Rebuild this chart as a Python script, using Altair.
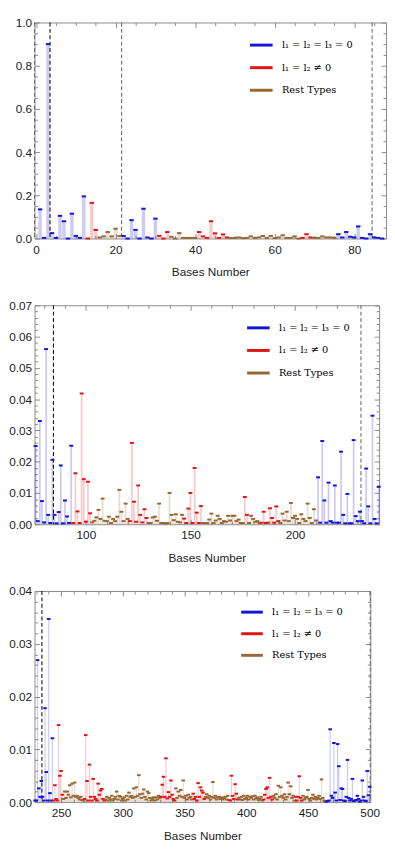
import altair as alt
import pandas as pd

# ---------------- data ----------------
TYPE_NAMES = {"B": "l₁ = l₂ = l₃ = 0", "R": "l₁ = l₂ ≠ 0", "N": "Rest Types"}
TYPE_ORDER = ["l₁ = l₂ = l₃ = 0", "l₁ = l₂ ≠ 0", "Rest Types"]
TYPE_COLORS = ["#1414d8", "#e01414", "#996633"]

# panel 1 : bases 1..87
p1_start = 1
p1_runs = [("B", 12), ("R", 3), ("N", 6), ("B", 9), ("R", 3), ("N", 7), ("R", 8),
           ("N", 18), ("R", 3), ("N", 6), ("B", 12)]
p1_vals = [0.135, 0.003, 0.90, 0.025, 0.003, 0.105, 0.080, 0.0, 0.115, 0.012, 0.003, 0.195,
           0.0, 0.165, 0.040,
           0.005, 0.010, 0.030, 0.010, 0.045, 0.012,
           0.012, 0.0, 0.085, 0.040, 0.0, 0.138, 0.005, 0.0, 0.092,
           0.012, 0.0, 0.030,
           0.008, 0.0, 0.025, 0.003, 0.003, 0.003, 0.003,
           0.030, 0.010, 0.003, 0.080, 0.024, 0.003, 0.019, 0.005,
           0.002, 0.003, 0.005, 0.002, 0.003, 0.010, 0.002, 0.005, 0.012, 0.003, 0.012, 0.002,
           0.005, 0.015, 0.003, 0.003, 0.010, 0.0,
           0.003, 0.020, 0.005,
           0.003, 0.003, 0.010, 0.005, 0.005, 0.003,
           0.020, 0.005, 0.030, 0.008, 0.005, 0.056, 0.003, 0.0, 0.020, 0.005, 0.003, 0.0]
p1_dashes = [-0.4, 3.5, 21.5, 84.5]
p1_dash_kinds = ["light", "dark", "light", "light"]
p1_xmajor = [0, 20, 40, 60, 80]
p1_xminor = [v for v in range(0, 90, 5) if v % 20]
p1_ymajor = [0.0, 0.2, 0.4, 0.6, 0.8, 1.0]
p1_yminor = [round(i * 0.05, 2) for i in range(21) if i % 4]

# panel 2 : bases 76..240
p2_start = 76
p2_runs = [("B", 18), ("R", 9), ("N", 18), ("R", 9), ("N", 17), ("R", 9), ("N", 20),
           ("R", 2), ("N", 6), ("R", 9), ("N", 18), ("B", 30)]
p2_vals = [0.025, 0.001, 0.033, 0.0074, 0.0006, 0.056, 0.003, 0.0004, 0.0206, 0.003, 0.0003,
           0.0039, 0.0188, 0.0003, 0.0076, 0.0025, 0.0004, 0.0251,
           0.0004, 0.0163, 0.0041, 0.0004, 0.0418, 0.0144, 0.0008, 0.0136, 0.0035,
           0.0006, 0.0011, 0.0022, 0.0046, 0.0017, 0.0082, 0.0011, 0.0010, 0.0024, 0.0004,
           0.0017, 0.0010, 0.0024, 0.0110, 0.0040, 0.0010, 0.0066, 0.0017,
           0.0010, 0.0260, 0.0072, 0.0008, 0.0124, 0.0030, 0.0006, 0.0048, 0.0020,
           0.0004, 0.0004, 0.0022, 0.0024, 0.0011, 0.0066, 0.0004, 0.0004, 0.0002, 0.0004,
           0.0100, 0.0030, 0.0013, 0.0032, 0.0008, 0.0006, 0.0030,
           0.0018, 0.0004, 0.0050, 0.0100, 0.0004, 0.0180, 0.0037, 0.0004, 0.0058,
           0.0004, 0.0004, 0.0004, 0.0015, 0.0034, 0.0004, 0.0012, 0.0027, 0.0017, 0.0004,
           0.0010, 0.0008, 0.0027, 0.0012, 0.0027, 0.0027, 0.0010, 0.0015, 0.0004, 0.0004,
           0.0087, 0.0030,
           0.0004, 0.0027, 0.0017, 0.0008, 0.0010, 0.0004,
           0.0005, 0.0040, 0.0004, 0.0005, 0.0051, 0.0020, 0.0005, 0.0057, 0.0010,
           0.0004, 0.0034, 0.0012, 0.0040, 0.0010, 0.0068, 0.0020, 0.0027, 0.0017, 0.0004,
           0.0032, 0.0017, 0.0010, 0.0066, 0.0020, 0.0004, 0.0048, 0.0012,
           0.0150, 0.0005, 0.0266, 0.0076, 0.0005, 0.0133, 0.0010, 0.0005, 0.0124, 0.0005,
           0.0005, 0.0232, 0.0030, 0.0003, 0.0097, 0.0003, 0.0003, 0.0269, 0.0026, 0.0010,
           0.0040, 0.0010, 0.0003, 0.0178, 0.0057, 0.0003, 0.0347, 0.0017, 0.0003, 0.0120]
p2_dashes = [84.5, 231.5]
p2_dash_kinds = ["dark", "light"]
p2_xmajor = [100, 150, 200]
p2_xminor = [v for v in range(80, 241, 10) if v % 50]
p2_ymajor = [0.0, 0.01, 0.02, 0.03, 0.04, 0.05, 0.06, 0.07]
p2_yminor = [round(i * 0.002, 3) for i in range(36) if i % 5]

# panel 3 : bases 229..500
p3_start = 229
p3_runs = [("B", 15), ("R", 8), ("N", 17), ("R", 17), ("N", 45), ("R", 12), ("N", 14),
           ("R", 10), ("N", 20), ("R", 7), ("N", 20), ("R", 8), ("N", 18), ("R", 6),
           ("N", 19), ("B", 36)]
p3_vals = [0.0003, 0.0003, 0.0269, 0.0026, 0.0010, 0.0040, 0.0010, 0.0003, 0.0178, 0.0057,
           0.0003, 0.0347, 0.0017, 0.0003, 0.0121,
           0.0003, 0.0032, 0.0006, 0.0003, 0.0146, 0.0050, 0.0059, 0.0014,
           0.0006, 0.0020, 0.0008, 0.0020, 0.0014, 0.0032, 0.0009, 0.0035, 0.0012, 0.0037,
           0.0010, 0.0012, 0.0008, 0.0005, 0.0010, 0.0004, 0.0003,
           0.0006, 0.0127, 0.0040, 0.0003, 0.0071, 0.0010, 0.0003, 0.0044, 0.0010, 0.0006,
           0.0003, 0.0035, 0.0014, 0.0022, 0.0025, 0.0006, 0.0003,
           0.0005, 0.0010, 0.0003, 0.0008, 0.0005, 0.0012, 0.0003, 0.0006, 0.0010, 0.0020,
           0.0005, 0.0012, 0.0010, 0.0003, 0.0006, 0.0009, 0.0003, 0.0012, 0.0005, 0.0018,
           0.0010, 0.0012, 0.0008, 0.0026, 0.0010, 0.0028, 0.0012, 0.0051, 0.0015, 0.0008,
           0.0016, 0.0024, 0.0010, 0.0005, 0.0020, 0.0017, 0.0008, 0.0003, 0.0006, 0.0009,
           0.0003, 0.0009, 0.0005, 0.0012, 0.0008,
           0.0010, 0.0033, 0.0048, 0.0010, 0.0083, 0.0007, 0.0019, 0.0010, 0.0041, 0.0014,
           0.0006, 0.0003,
           0.0026, 0.0008, 0.0020, 0.0012, 0.0023, 0.0010, 0.0041, 0.0008, 0.0012, 0.0005,
           0.0014, 0.0008, 0.0010, 0.0005,
           0.0016, 0.0006, 0.0010, 0.0003, 0.0036, 0.0010, 0.0028, 0.0022, 0.0018, 0.0006,
           0.0010, 0.0015, 0.0008, 0.0012, 0.0005, 0.0010, 0.0038, 0.0008, 0.0012, 0.0005,
           0.0009, 0.0010, 0.0006, 0.0009, 0.0005, 0.0008, 0.0010, 0.0005, 0.0012, 0.0004,
           0.0003, 0.0050, 0.0012, 0.0006, 0.0034, 0.0016, 0.0005,
           0.0008, 0.0005, 0.0010, 0.0004, 0.0012, 0.0006, 0.0008, 0.0012, 0.0005, 0.0010,
           0.0008, 0.0011, 0.0005, 0.0012, 0.0007, 0.0009, 0.0004, 0.0006, 0.0010, 0.0003,
           0.0005, 0.0014, 0.0025, 0.0028, 0.0008, 0.0046, 0.0010, 0.0005,
           0.0012, 0.0008, 0.0015, 0.0005, 0.0031, 0.0010, 0.0028, 0.0012, 0.0008, 0.0015,
           0.0005, 0.0010, 0.0037, 0.0015, 0.0030, 0.0008, 0.0012, 0.0003,
           0.0010, 0.0003, 0.0010, 0.0049, 0.0008, 0.0003,
           0.0012, 0.0005, 0.0008, 0.0010, 0.0023, 0.0006, 0.0003, 0.0008, 0.0014, 0.0006,
           0.0010, 0.0005, 0.0008, 0.0012, 0.0006, 0.0043, 0.0008, 0.0003, 0.0001,
           0.0001, 0.0002, 0.0003, 0.0138, 0.0012, 0.0008, 0.0112, 0.0018, 0.0003, 0.0110,
           0.0068, 0.0004, 0.0026, 0.0025, 0.0003, 0.0002, 0.0010, 0.0080, 0.0008, 0.0003,
           0.0006, 0.0044, 0.0002, 0.0003, 0.0004, 0.0012, 0.0006, 0.0001, 0.0003, 0.0041,
           0.0010, 0.0003, 0.0002, 0.0059, 0.0013, 0.0029]
p3_dashes = [234.5, 500.5]
p3_dash_kinds = ["dark", "light"]
p3_xmajor = [250, 300, 350, 400, 450, 500]
p3_xminor = [v for v in range(230, 501, 10) if v % 50]
p3_ymajor = [0.0, 0.01, 0.02, 0.03, 0.04]
p3_yminor = [round(i * 0.002, 3) for i in range(21) if i % 5]


def build_df(start, runs, vals):
    codes = "".join(c * n for c, n in runs)
    assert len(codes) == len(vals), (len(codes), len(vals))
    return pd.DataFrame({
        "base": list(range(start, start + len(vals))),
        "value": vals,
        "type": [TYPE_NAMES[c] for c in codes],
    })


LABEL_FONT = "Liberation Sans"
FRAME = "#8a8a8a"


def make_panel(df, dashes, kinds, cfg):
    W, H = cfg["w"], cfg["h"]
    xs = alt.Scale(domain=cfg["xdom"], nice=False, zero=False)
    ys = alt.Scale(domain=[0, cfg["ymax"]], nice=False, zero=True)
    legend = alt.Legend(
        orient="none", legendX=cfg["lx"], legendY=cfg["ly"], title=None,
        symbolType="stroke", symbolSize=cfg["lsize"], symbolStrokeWidth=3,
        symbolOpacity=1, labelFont="DejaVu Serif", labelFontSize=10,
        labelColor="#000000", labelOffset=8, rowPadding=cfg["lrow"], padding=0,
    )
    color = alt.Color("type:N", scale=alt.Scale(domain=TYPE_ORDER, range=TYPE_COLORS),
                      legend=legend, sort=TYPE_ORDER)
    base = alt.Chart(df)

    # frame ticks: short dashes of grid lines at both edges of the frame
    common = dict(ticks=False, domain=False, grid=True, gridColor=FRAME, gridWidth=1,
                  labelOverlap=False)
    x_major = alt.Axis(
        orient="bottom", values=cfg["xmajor"], gridDash=[5, H - 10, 5, 3 * H],
        format="d", labelFlush=False, labelPadding=6, labelFont=LABEL_FONT,
        labelFontSize=12, labelColor="#222222", title="Bases Number", titleFont=LABEL_FONT,
        titleFontSize=12, titleFontWeight="normal", titleColor="#222222", titlePadding=12,
        **common)
    y_major = alt.Axis(
        orient="left", values=cfg["ymajor"], gridDash=[5, W - 10, 5, 3 * W],
        format=cfg["yfmt"], labelPadding=3, labelFont=LABEL_FONT, labelFontSize=12,
        labelColor="#222222", title=None, **common)
    x_minor = alt.Axis(orient="top", values=cfg["xminor"], gridDash=[3, H - 6, 3, 3 * H],
                       labels=False, title=None, **common)
    y_minor = alt.Axis(orient="right", values=cfg["yminor"], gridDash=[3, W - 6, 3, 3 * W],
                       labels=False, title=None, **common)

    fills = base.mark_rule(strokeWidth=cfg["barw"], opacity=0.22).encode(
        x=alt.X("base:Q", scale=xs, axis=x_major),
        y=alt.Y("value:Q", scale=ys, axis=y_major),
        y2=alt.datum(0),
        color=color,
    )
    ddf = pd.DataFrame({"base": dashes, "kind": kinds})
    dash = alt.Chart(ddf).mark_rule(strokeDash=[4, 2.5], strokeWidth=1.1).encode(
        x=alt.X("base:Q", scale=xs, axis=None),
        stroke=alt.Stroke("kind:N", scale=alt.Scale(domain=["dark", "light"],
                                                    range=["#111111", "#6e6e6e"]),
                          legend=None),
    )
    caps = base.mark_rule(strokeWidth=2, xOffset=-cfg["capw"] / 2,
                          x2Offset=cfg["capw"] / 2).encode(
        x=alt.X("base:Q", scale=xs, axis=x_minor),
        x2=alt.X2("base:Q"),
        y=alt.Y("value:Q", scale=ys, axis=y_minor),
        color=color,
    )
    return alt.layer(fills, dash, caps).resolve_axis(
        x="independent", y="independent").properties(width=W, height=H)


p1 = make_panel(build_df(p1_start, p1_runs, p1_vals), p1_dashes, p1_dash_kinds, dict(
    xdom=[-0.4, 88.0], ymax=1.0, w=358, h=220, barw=3.5, capw=4.5, yfmt=".1f",
    xmajor=p1_xmajor, xminor=p1_xminor, ymajor=p1_ymajor, yminor=p1_yminor,
    lx=218, ly=10, lsize=529, lrow=4))
p2 = make_panel(build_df(p2_start, p2_runs, p2_vals), p2_dashes, p2_dash_kinds, dict(
    xdom=[75.45, 240.2], ymax=0.07, w=351, h=223, barw=1.8, capw=4.0, yfmt=".2f",
    xmajor=p2_xmajor, xminor=p2_xminor, ymajor=p2_ymajor, yminor=p2_yminor,
    lx=215, ly=10, lsize=529, lrow=4))
p3 = make_panel(build_df(p3_start, p3_runs, p3_vals), p3_dashes, p3_dash_kinds, dict(
    xdom=[228.5, 500.5], ymax=0.04, w=342, h=215, barw=1.2, capw=3.6, yfmt=".2f",
    xmajor=p3_xmajor, xminor=p3_xminor, ymajor=p3_ymajor, yminor=p3_yminor,
    lx=209, ly=9, lsize=484, lrow=3))

chart = alt.concat(
    p1, p2, p3, columns=1, align="none", spacing=20, padding=0,
).resolve_scale(
    x="independent", y="independent", color="independent", stroke="independent"
).resolve_legend(color="independent").configure_view(
    stroke=FRAME, strokeWidth=1
)

chart.save("out.html", embed_options={"renderer": "svg", "actions": False})
